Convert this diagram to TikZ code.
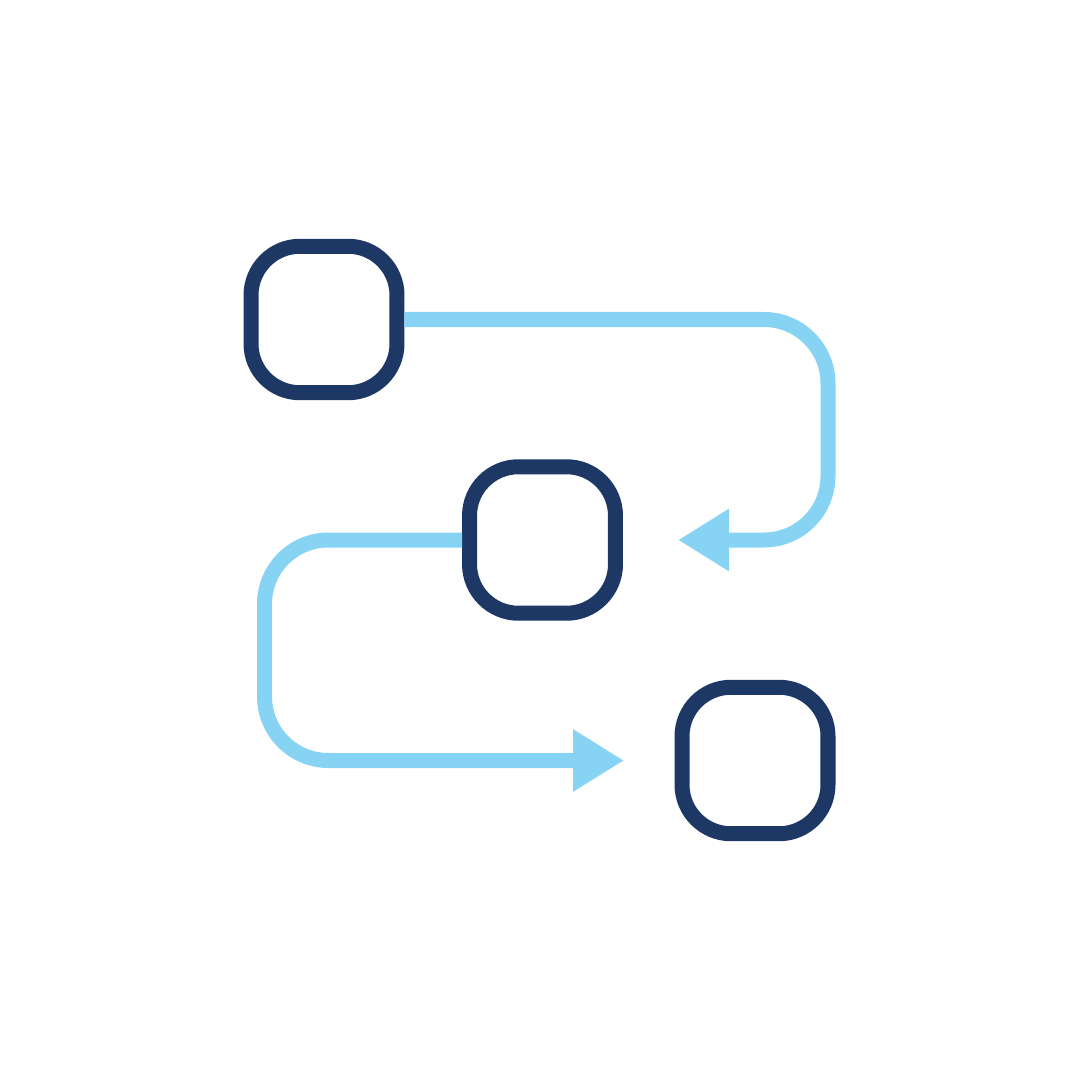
\documentclass[tikz,border=0pt]{standalone}
\usetikzlibrary{arrows.meta}
\definecolor{navy}{HTML}{1D3865}
\definecolor{sky}{HTML}{87D3F4}
\begin{document}
\begin{tikzpicture}[x=0.02cm,y=-0.02cm,
  box/.style={draw=navy, line width=8.54pt, rounded corners=0.98cm,
    minimum width=2.92cm, minimum height=2.93cm, inner sep=0pt, fill=white},
  conn/.style={draw=sky, line width=8.54pt, rounded corners=1.28cm,
    -{Triangle[length=29pt,width=33.5pt]}}]
\useasboundingbox (0,0) rectangle (1081,1081);
\node[box] (b1) at (324,319.5) {};
\node[box] (b2) at (542.5,540) {};
\node[box] (b3) at (755,760.5) {};
\coordinate (e1) at (678,540);
\coordinate (e2) at (624,760.5);
\draw[conn] (b1.east) -- (828,319.5) -- (828,540) -- (e1);
\draw[conn] (b2.west) -- (264.5,540) -- (264.5,760.5) -- (e2);
\end{tikzpicture}
\end{document}
